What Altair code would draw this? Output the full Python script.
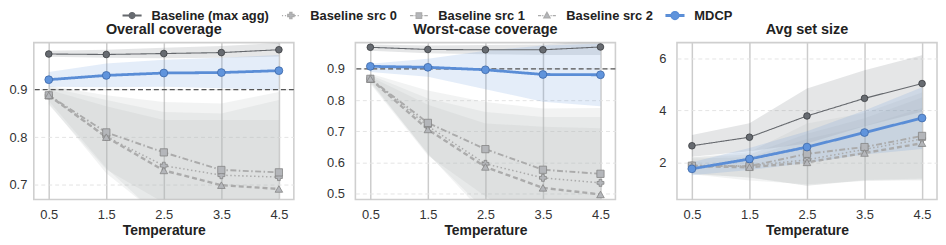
import altair as alt
import pandas as pd

temps = [0.5, 1.5, 2.5, 3.5, 4.5]
methods = ["Baseline (max agg)", "Baseline src 0", "Baseline src 1", "Baseline src 2", "MDCP"]
panel_titles = ["Overall coverage", "Worst-case coverage", "Avg set size"]
target_level = 0.9

# ---- Overall coverage ----
ov_max = [0.975, 0.974, 0.976, 0.978, 0.984]
ov_max_lo = [0.969, 0.967, 0.966, 0.967, 0.970]
ov_max_hi = [0.982, 0.984, 0.988, 0.992, 0.998]
ov_s0 = [0.888, 0.801, 0.740, 0.720, 0.716]
ov_s0_lo = [0.871, 0.724, 0.627, 0.590, 0.554]
ov_s0_hi = [0.905, 0.878, 0.853, 0.850, 0.878]
ov_s1 = [0.888, 0.810, 0.768, 0.731, 0.726]
ov_s1_lo = [0.868, 0.732, 0.662, 0.591, 0.557]
ov_s1_hi = [0.908, 0.888, 0.874, 0.871, 0.895]
ov_s2 = [0.888, 0.800, 0.730, 0.699, 0.691]
ov_s2_lo = [0.876, 0.735, 0.624, 0.562, 0.546]
ov_s2_hi = [0.900, 0.865, 0.836, 0.836, 0.836]
ov_md = [0.921, 0.930, 0.935, 0.936, 0.940]
ov_md_lo = [0.906, 0.905, 0.906, 0.903, 0.899]
ov_md_hi = [0.937, 0.955, 0.963, 0.967, 0.973]

# ---- Worst-case coverage ----
wc_max = [0.969, 0.962, 0.961, 0.961, 0.970]
wc_max_lo = [0.958, 0.950, 0.947, 0.944, 0.944]
wc_max_hi = [0.978, 0.975, 0.976, 0.978, 0.990]
wc_s0 = [0.868, 0.717, 0.596, 0.551, 0.535]
wc_s0_lo = [0.856, 0.629, 0.430, 0.356, 0.324]
wc_s0_hi = [0.880, 0.805, 0.762, 0.746, 0.746]
wc_s1 = [0.868, 0.727, 0.643, 0.577, 0.564]
wc_s1_lo = [0.852, 0.623, 0.492, 0.381, 0.353]
wc_s1_hi = [0.884, 0.831, 0.794, 0.773, 0.775]
wc_s2 = [0.868, 0.706, 0.586, 0.519, 0.498]
wc_s2_lo = [0.861, 0.627, 0.447, 0.323, 0.286]
wc_s2_hi = [0.875, 0.785, 0.725, 0.715, 0.710]
wc_md = [0.908, 0.905, 0.897, 0.882, 0.881]
wc_md_lo = [0.890, 0.875, 0.835, 0.795, 0.780]
wc_md_hi = [0.916, 0.932, 0.958, 0.975, 0.980]

# ---- Avg set size ----
ss_max = [2.64, 2.97, 3.79, 4.47, 5.04]
ss_max_lo = [2.22, 2.43, 2.73, 3.39, 3.95]
ss_max_hi = [3.06, 3.51, 4.85, 5.55, 6.13]
ss_s0 = [1.88, 1.86, 2.10, 2.50, 2.90]
ss_s0_lo = [1.56, 1.42, 1.10, 1.30, 1.30]
ss_s0_hi = [2.20, 2.30, 3.10, 3.70, 4.50]
ss_s1 = [1.87, 1.85, 2.33, 2.59, 3.02]
ss_s1_lo = [1.54, 1.30, 1.16, 1.28, 1.34]
ss_s1_hi = [2.20, 2.40, 3.50, 3.90, 4.70]
ss_s2 = [1.85, 1.81, 2.00, 2.36, 2.74]
ss_s2_lo = [1.55, 1.42, 1.10, 1.32, 1.38]
ss_s2_hi = [2.15, 2.20, 2.90, 3.40, 4.10]
ss_md = [1.75, 2.13, 2.59, 3.15, 3.71]
ss_md_lo = [1.50, 1.71, 1.98, 2.30, 2.52]
ss_md_hi = [2.00, 2.55, 3.20, 4.00, 4.90]

y_domains = [[0.669, 0.999], [0.482, 0.984], [0.57, 6.62]]
y_ticks = [[0.7, 0.8, 0.9], [0.5, 0.6, 0.7, 0.8, 0.9], [2, 4, 6]]
y_formats = [".1f", ".1f", "d"]

# styles
line_colors = ["#65686d", "#ababab", "#ababab", "#ababab", "#5a8dd6"]
fill_colors = ["#676b71", "#b4b6ba", "#b4b6ba", "#b4b6ba", "#6094dc"]
edge_colors = ["#3a3c40", "#858585", "#858585", "#858585", "#3d68a8"]
dashes = [[1, 0], [1.5, 2.5], [6, 2.5, 1.5, 2.5], [5, 3], [1, 0]]
widths = [1.9, 1.1, 1.1, 1.1, 2.8]
shapes = ["circle", "cross", "square", "triangle-up", "circle"]
sizes = [30, 40, 40, 45, 62]

legend_paths = [
    "M-2.25,-0.1H-0.75V0.1H-2.25ZM0.75,-0.1H2.25V0.1H0.75ZM0.75,0A0.75,0.75,0,1,1,-0.75,0A0.75,0.75,0,1,1,0.75,0Z",
    "M-2.25,0h0.3M-1.5,0h0.3M0.95,0h0.3M1.7,0h0.3M-0.28,-0.8H0.28V-0.28H0.8V0.28H0.28V0.8H-0.28V0.28H-0.8V-0.28H-0.28Z",
    "M-2.25,0h0.9M-1.1,0h0.2M0.9,0h0.2M1.35,0h0.9M-0.7,-0.7H0.7V0.7H-0.7Z",
    "M-2.25,0h0.8M-1.2,0h0.3M0.9,0h0.3M1.45,0h0.8M0,-0.85L0.8,0.6H-0.8Z",
    "M-2.25,-0.22H-0.95V0.22H-2.25ZM0.95,-0.22H2.25V0.22H0.95ZM1,0A1,1,0,1,1,-1,0A1,1,0,1,1,1,0Z",
]


def ternary(values):
    expr = "'" + values[-1] + "'"
    for m, v in reversed(list(zip(methods[:-1], values[:-1]))):
        expr = "datum.value === '" + m + "' ? '" + v + "' : " + expr
    return expr


panel_series = [
    [(ov_max, ov_max_lo, ov_max_hi), (ov_s0, ov_s0_lo, ov_s0_hi), (ov_s1, ov_s1_lo, ov_s1_hi),
     (ov_s2, ov_s2_lo, ov_s2_hi), (ov_md, ov_md_lo, ov_md_hi)],
    [(wc_max, wc_max_lo, wc_max_hi), (wc_s0, wc_s0_lo, wc_s0_hi), (wc_s1, wc_s1_lo, wc_s1_hi),
     (wc_s2, wc_s2_lo, wc_s2_hi), (wc_md, wc_md_lo, wc_md_hi)],
    [(ss_max, ss_max_lo, ss_max_hi), (ss_s0, ss_s0_lo, ss_s0_hi), (ss_s1, ss_s1_lo, ss_s1_hi),
     (ss_s2, ss_s2_lo, ss_s2_hi), (ss_md, ss_md_lo, ss_md_hi)],
]

rev = methods[::-1]
color_scale = alt.Scale(domain=methods, range=line_colors)
fill_scale = alt.Scale(domain=rev, range=fill_colors[::-1])
stroke_scale = alt.Scale(domain=rev, range=edge_colors[::-1])
dash_scale = alt.Scale(domain=rev, range=dashes[::-1])
width_scale = alt.Scale(domain=rev, range=widths[::-1])
shape_scale = alt.Scale(domain=rev, range=shapes[::-1])
size_scale = alt.Scale(domain=rev, range=sizes[::-1])

legend = alt.Legend(
    title=None, orient="none", legendX=90, legendY=-34, direction="horizontal",
    columns=5, columnPadding=10, padding=0, symbolSize=64, symbolStrokeWidth=1.2,
    symbolOffset=2.5, labelOffset=13, labelFontSize=13, labelFontWeight="bold",
    labelColor="#222222", labelFont="Liberation Sans", labelLimit=0,
    symbolType=alt.ExprRef(ternary(legend_paths)),
    symbolFillColor=alt.ExprRef(ternary(fill_colors)),
)


def make_panel(i):
    rows = []
    for m, (mean, lo, hi) in zip(methods, panel_series[i]):
        for t, a, b, c in zip(temps, mean, lo, hi):
            rows.append({"method": m, "T": t, "mean": a, "lo": b, "hi": c})
    df = pd.DataFrame(rows)

    x = alt.X("T:Q", scale=alt.Scale(domain=[0.24, 4.76], nice=False, zero=False),
              axis=alt.Axis(values=temps, format=".1f", title="Temperature", labelFlush=False))
    yaxis = alt.Axis(values=y_ticks[i], format=y_formats[i], title=None,
                     labelPadding=7 if i == 0 else 11)
    yscale = alt.Scale(domain=y_domains[i], nice=False, zero=False)
    base = alt.Chart(df)

    band = base.mark_area(clip=True, opacity=0.17).encode(
        x=x, y=alt.Y("lo:Q", scale=yscale, axis=yaxis), y2="hi:Q",
        fill=alt.Fill("method:N", scale=fill_scale, legend=None),
    )
    line = base.mark_line(clip=True).encode(
        x=x, y=alt.Y("mean:Q", scale=yscale, axis=yaxis),
        color=alt.Color("method:N", scale=color_scale, legend=legend),
        strokeDash=alt.StrokeDash("method:N", scale=dash_scale, legend=None),
        strokeWidth=alt.StrokeWidth("method:N", scale=width_scale, legend=None),
    )
    pts = base.mark_point(filled=True, opacity=1, strokeWidth=0.8, clip=True).encode(
        x=x, y=alt.Y("mean:Q", scale=yscale, axis=yaxis),
        fill=alt.Fill("method:N", scale=fill_scale, legend=None),
        stroke=alt.Stroke("method:N", scale=stroke_scale, legend=None),
        shape=alt.Shape("method:N", scale=shape_scale, legend=None),
        size=alt.Size("method:N", scale=size_scale, legend=None),
    )
    layers = [band]
    if i < 2:
        ref = alt.Chart(pd.DataFrame({"level": [target_level]})).mark_rule(
            color="#555555", strokeDash=[5, 3], strokeWidth=1.2
        ).encode(y=alt.Y("level:Q", scale=yscale, axis=yaxis))
        layers.append(ref)
    layers += [line, pts]
    return alt.layer(*layers).properties(width=262, height=158, title=panel_titles[i])


chart = alt.hconcat(make_panel(0), make_panel(1), make_panel(2), spacing=62, bounds="flush").properties(
    padding={"left": 0, "top": 0, "right": 0, "bottom": 0}
).configure(
    font="Liberation Sans"
).configure_view(
    stroke="#cfcfcf", strokeWidth=1.6
).configure_axis(
    labelFont="Liberation Sans", labelFontSize=13, labelColor="#333333",
    titleFont="Liberation Sans", titleFontSize=14, titleFontWeight="bold", titleColor="#222222",
    ticks=False, tickSize=0, domain=False,
).configure_axisX(
    grid=True, gridColor="#cccccc", gridWidth=1.5, labelPadding=9, titlePadding=2,
).configure_axisY(
    grid=True, gridColor="#e4e4e4", gridDash=[4, 3], gridWidth=1,
).configure_title(
    font="Liberation Sans", fontSize=14.5, fontWeight="bold", color="#222222",
    offset=5, baseline="alphabetic", anchor="middle",
)

chart.save("out.html", embed_options={"renderer": "svg", "actions": False})
